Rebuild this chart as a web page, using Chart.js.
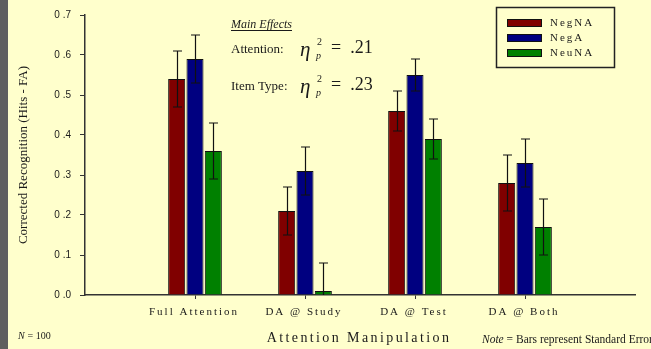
<!DOCTYPE html>
<html>
<head>
<meta charset="utf-8">
<script src="https://cdn.jsdelivr.net/npm/chart.js@4"></script>
<style>
  html, body { margin: 0; padding: 0; background: #ffffcc; }
  #wrap { width: 651px; height: 349px; }
</style>
</head>
<body>
<div id="wrap"><canvas id="grafico" width="651" height="349"></canvas></div>
<script>
// categorias (con huecos vacios en los extremos del eje)
const categorias = ["", "Full Attention", "DA @ Study", "DA @ Test", "DA @ Both", ""];
const series = ["NegNA", "NegA", "NeuNA"];
const colores = ["#800000", "#000080", "#008000"];

const negNA = [null, 0.54, 0.21, 0.46, 0.28, null];
const negA = [null, 0.59, 0.31, 0.55, 0.33, null];
const neuNA = [null, 0.36, 0.01, 0.39, 0.17, null];

// error estandar
const errNegNA = [null, 0.07, 0.06, 0.05, 0.07, null];
const errNegA = [null, 0.06, 0.06, 0.04, 0.06, null];
const errNeuNA = [null, 0.07, 0.07, 0.05, 0.07, null];

const yTicks = [0, 0.1, 0.2, 0.3, 0.4, 0.5, 0.6, 0.7];

const valores = [negNA, negA, neuNA];
const errores = [errNegNA, errNegA, errNeuNA];

const FONDO = "#ffffcc";
const TEXTO = "#1a1a1a";

// texto con espaciado entre letras
function texto(ctx, str, x, y, font, align, spacing) {
  ctx.save();
  ctx.font = font;
  ctx.fillStyle = TEXTO;
  ctx.textAlign = align || "left";
  ctx.textBaseline = "middle";
  ctx.letterSpacing = (spacing || 0) + "px";
  ctx.fillText(str, x, y);
  ctx.restore();
}

const fondoPlugin = {
  id: "fondo",
  beforeDraw(chart) {
    const ctx = chart.ctx;
    ctx.save();
    ctx.fillStyle = FONDO;
    ctx.fillRect(0, 0, chart.width, chart.height);
    ctx.fillStyle = "#5f5f5f";
    ctx.fillRect(0, 0, 8, chart.height);
    ctx.restore();
  }
};

const erroresPlugin = {
  id: "barrasError",
  afterDatasetsDraw(chart) {
    const ctx = chart.ctx;
    const y = chart.scales.y;
    const area = chart.chartArea;
    ctx.save();
    ctx.beginPath();
    ctx.rect(area.left, area.top - 20, area.right - area.left, area.bottom - area.top + 20);
    ctx.clip();
    ctx.strokeStyle = "#111";
    ctx.lineWidth = 1.2;
    chart.data.datasets.forEach((ds, d) => {
      const meta = chart.getDatasetMeta(d);
      meta.data.forEach((bar, i) => {
        const v = valores[d][i];
        const e = errores[d][i];
        if (v === null || e === null) return;
        const x = Math.round(bar.x) + 0.5;
        const top = y.getPixelForValue(v + e);
        const bot = y.getPixelForValue(v - e);
        ctx.beginPath();
        ctx.moveTo(x, top);
        ctx.lineTo(x, bot);
        ctx.moveTo(x - 4.5, top);
        ctx.lineTo(x + 4.5, top);
        ctx.moveTo(x - 4.5, bot);
        ctx.lineTo(x + 4.5, bot);
        ctx.stroke();
      });
    });
    ctx.restore();
  }
};

const textosPlugin = {
  id: "textos",
  afterDraw(chart) {
    const ctx = chart.ctx;
    const x = chart.scales.x;
    const serif = "'Liberation Serif', 'Times New Roman', serif";

    // etiquetas de categorias
    categorias.forEach((c, i) => {
      if (!c) return;
      texto(ctx, c, x.getPixelForValue(i) - 1, 312, "11px " + serif, "center", 2);
    });

    // titulo eje x
    texto(ctx, "Attention Manipulation", 359, 338, "14px " + serif, "center", 2.4);

    // titulo eje y
    ctx.save();
    ctx.translate(24, 155);
    ctx.rotate(-Math.PI / 2);
    texto(ctx, "Corrected Recognition (Hits - FA)", 0, 0, "13px " + serif, "center", 0);
    ctx.restore();

    // notas
    ctx.save();
    ctx.font = "italic 10px " + serif;
    ctx.fillStyle = TEXTO;
    ctx.textBaseline = "middle";
    ctx.fillText("N", 18, 336);
    ctx.font = "10px " + serif;
    ctx.fillText(" = 100", 25, 336);
    ctx.font = "italic 11.5px " + serif;
    ctx.fillText("Note", 482, 340);
    const w = ctx.measureText("Note").width;
    ctx.font = "11.5px " + serif;
    ctx.fillText(" = Bars represent Standard Error", 482 + w, 340);
    ctx.restore();

    // efectos principales
    ctx.save();
    ctx.fillStyle = TEXTO;
    ctx.textBaseline = "alphabetic";
    ctx.font = "italic 12px " + serif;
    ctx.fillText("Main Effects", 231, 28);
    const mw = ctx.measureText("Main Effects").width;
    ctx.fillRect(231, 30, mw, 1);
    [["Attention:", ".21", 53], ["Item Type:", ".23", 90]].forEach(([lbl, val, by]) => {
      ctx.font = "13px " + serif;
      ctx.fillText(lbl, 231, by);
      ctx.font = "italic 21px " + serif;
      ctx.fillText("\u03B7", 300, by + 3);
      ctx.font = "italic 10px " + serif;
      ctx.fillText("p", 316, by + 6);
      ctx.font = "10px " + serif;
      ctx.fillText("2", 317, by - 8);
      ctx.font = "18px " + serif;
      ctx.fillText("=  " + val, 331, by);
    });
    ctx.restore();

    // leyenda
    ctx.save();
    ctx.strokeStyle = "#222";
    ctx.lineWidth = 1.5;
    ctx.strokeRect(496.5, 7.5, 118, 60);
    chart.data.datasets.forEach((ds, d) => {
      const cy = 23 + d * 15;
      ctx.fillStyle = ds.backgroundColor;
      ctx.fillRect(507, cy - 4, 35, 8);
      ctx.strokeStyle = "#111";
      ctx.lineWidth = 1;
      ctx.strokeRect(507.5, cy - 3.5, 34, 7);
      texto(ctx, ds.label, 550, cy, "11px " + serif, "left", 2);
    });
    ctx.restore();
  }
};

const ctx = document.getElementById("grafico").getContext("2d");
const chart = new Chart(ctx, {
  type: "bar",
  data: {
    labels: categorias,
    datasets: series.map((s, i) => ({
      label: s,
      data: valores[i],
      backgroundColor: colores[i],
      borderColor: "#111",
      borderWidth: 1,
      borderSkipped: "bottom",
      barPercentage: 0.93,
      categoryPercentage: 0.5
    }))
  },
  options: {
    responsive: false,
    animation: false,
    events: [],
    layout: { padding: { left: 0, right: 16, top: 15, bottom: 0 } },
    plugins: {
      legend: { display: false },
      tooltip: { enabled: false },
      title: { display: false }
    },
    scales: {
      x: {
        offset: false,
        grid: {
          offset: false,
          drawOnChartArea: false,
          drawTicks: true,
          tickLength: 4,
          color: (c) => (c.index > 0 && c.index < categorias.length - 1 ? "#333" : "rgba(0,0,0,0)")
        },
        border: { color: "#333", width: 1.5 },
        ticks: { display: false },
        afterFit: (s) => { s.height = 54; }
      },
      y: {
        min: 0,
        max: 0.7,
        afterBuildTicks: (s) => { s.ticks = yTicks.map(v => ({ value: v })); },
        grid: { drawOnChartArea: false, drawTicks: true, tickLength: 5, color: "#333" },
        border: { color: "#333", width: 1.5 },
        ticks: {
          color: TEXTO,
          padding: 9,
          font: { family: "'Liberation Sans', Arial, sans-serif", size: 10 },
          callback: (v) => Number(v).toFixed(1).split("").join(" ").replace(" . ", " .")
        },
        afterFit: (s) => { s.width = 85; }
      }
    }
  },
  plugins: [fondoPlugin, erroresPlugin, textosPlugin]
});
</script>
</body>
</html>
